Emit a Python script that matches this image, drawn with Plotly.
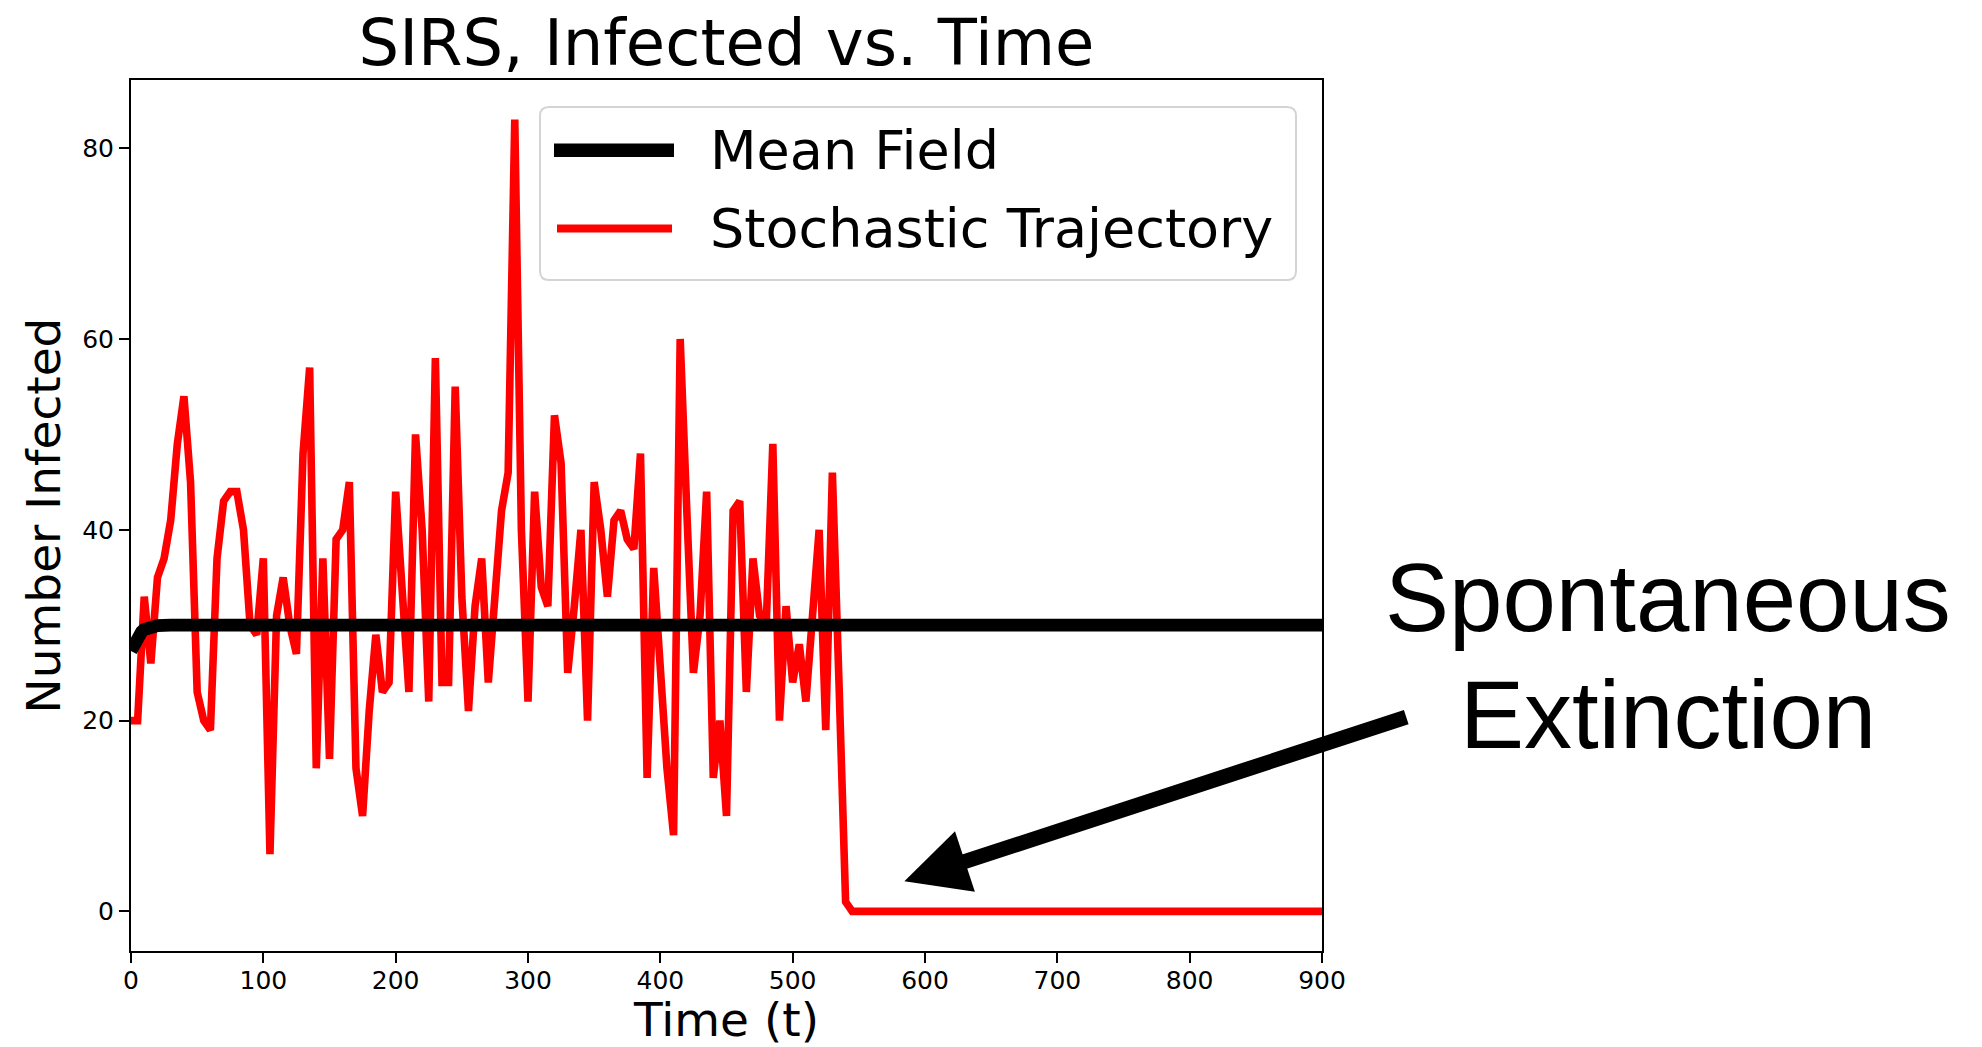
import plotly.graph_objects as go

# ---------------- data ----------------
stoch_t = [0, 5, 10, 15, 20, 25, 30, 35, 40, 45, 50, 55, 60, 65, 70, 75, 80, 85, 90, 95,
           100, 105, 110, 115, 120, 125, 130, 135, 140, 145, 150, 155, 160, 165, 170, 175,
           180, 185, 190, 195, 200, 205, 210, 215, 220, 225, 230, 235, 240, 245, 250, 255,
           260, 265, 270, 275, 280, 285, 290, 295, 300, 305, 310, 315, 320, 325, 330, 335,
           340, 345, 350, 355, 360, 365, 370, 375, 380, 385, 390, 395, 400, 405, 410, 415,
           420, 425, 430, 435, 440, 445, 450, 455, 460, 465, 470, 475, 480, 485, 490, 495,
           500, 505, 510, 515, 520, 525, 530, 535, 540, 545, 900]
stoch_infected = [20, 20, 33, 26, 35, 37, 41, 49, 54, 45, 23, 20, 19, 37, 43, 44, 44, 40, 30, 29,
                  37, 6, 31, 35, 30, 27, 48, 57, 15, 37, 16, 39, 40, 45, 15, 10,
                  21, 29, 23, 24, 44, 34, 23, 50, 40, 22, 58, 24, 24, 55, 33, 21,
                  32, 37, 24, 33, 42, 46, 83, 40, 22, 44, 34, 32, 52, 47, 25, 32,
                  40, 20, 45, 40, 33, 41, 42, 39, 38, 48, 14, 36, 26, 15, 8, 60,
                  42, 25, 31, 44, 14, 20, 10, 42, 43, 23, 37, 31, 30, 49, 20, 32,
                  24, 28, 22, 31, 40, 19, 46, 24, 1, 0, 0]

mf_t = [0, 2, 4, 6, 8, 10, 13, 16, 20, 30, 900]
mf_infected = [27.3, 28.0, 28.6, 29.0, 29.3, 29.55, 29.75, 29.87, 29.95, 30.0, 30.0]

x_ticks = [0, 100, 200, 300, 400, 500, 600, 700, 800, 900]
y_ticks = [0, 20, 40, 60, 80]

title_text = "SIRS, Infected vs. Time"
x_title = "Time (t)"
y_title = "Number Infected"
legend_names = ["Mean Field", "Stochastic Trajectory"]
note_lines = ["Spontaneous", "Extinction"]
arrow_tip = (584.4, 3.15)
arrow_tail = (964.8, 20.42)

# ---------------- figure ----------------
W, H = 1982, 1047
L, R, T, B = 131, 660, 80, 96
BLACK_W, RED_W = 12.8, 7.6
DJ = "DejaVu Sans"

fig = go.Figure()
fig.add_trace(go.Scatter(x=stoch_t, y=stoch_infected, mode="lines",
                         name=legend_names[1],
                         line=dict(color="#ff0000", width=RED_W),
                         showlegend=False))
fig.add_trace(go.Scatter(x=mf_t, y=mf_infected, mode="lines",
                         name=legend_names[0],
                         line=dict(color="#000000", width=BLACK_W),
                         showlegend=False))

pw, ph = W - L - R, H - T - B


def px_x(px):
    return (px - L) / pw


def px_y(py):
    return (H - B - py) / ph


# manual legend (rounded box, long line samples)
bx0, bx1, by0, by1 = px_x(540), px_x(1296), px_y(280), px_y(107)
rx, ry = 9 / pw, 9 / ph
box_path = (f"M{bx0+rx},{by0} L{bx1-rx},{by0} Q{bx1},{by0} {bx1},{by0+ry} "
            f"L{bx1},{by1-ry} Q{bx1},{by1} {bx1-rx},{by1} L{bx0+rx},{by1} "
            f"Q{bx0},{by1} {bx0},{by1-ry} L{bx0},{by0+ry} Q{bx0},{by0} {bx0+rx},{by0} Z")

shapes = [
    dict(type="path", path=box_path, xref="paper", yref="paper", layer="above",
         fillcolor="rgba(255,255,255,0.9)", line=dict(color="#d4d4d4", width=2)),
    dict(type="line", xref="paper", yref="paper", layer="above",
         x0=px_x(554), x1=px_x(674), y0=px_y(150.3), y1=px_y(150.3),
         line=dict(color="#000000", width=13.5)),
    dict(type="line", xref="paper", yref="paper", layer="above",
         x0=px_x(557), x1=px_x(672), y0=px_y(228.5), y1=px_y(228.5),
         line=dict(color="#ff0000", width=8)),
]

annotations = [
    dict(text=legend_names[0], xref="paper", yref="paper", x=px_x(708), y=px_y(150.3),
         xanchor="left", yanchor="middle", showarrow=False,
         font=dict(family=DJ, size=54, color="#000000")),
    dict(text=legend_names[1], xref="paper", yref="paper", x=px_x(708), y=px_y(228.5),
         xanchor="left", yanchor="middle", showarrow=False,
         font=dict(family=DJ, size=54, color="#000000")),
    dict(text="", x=arrow_tip[0], y=arrow_tip[1], xref="x", yref="y",
         ax=arrow_tail[0], ay=arrow_tail[1], axref="x", ayref="y",
         showarrow=True, arrowhead=2, arrowwidth=15, arrowsize=0.85,
         arrowcolor="#000000", standoff=0),
    dict(text=note_lines[0], xref="paper", yref="paper", x=px_x(1668), y=px_y(597),
         xanchor="center", yanchor="middle", showarrow=False,
         font=dict(family="Liberation Sans, Arial", size=96, color="#000000")),
    dict(text=note_lines[1], xref="paper", yref="paper", x=px_x(1668), y=px_y(714),
         xanchor="center", yanchor="middle", showarrow=False,
         font=dict(family="Liberation Sans, Arial", size=96, color="#000000")),
]

axis_common = dict(showgrid=False, zeroline=False, showline=True, linecolor="#000000",
                   linewidth=2, mirror=True, ticks="outside", ticklen=10, tickwidth=2,
                   tickcolor="#000000", automargin=False,
                   tickfont=dict(family=DJ, size=25, color="#000000"))

fig.update_layout(
    width=W, height=H,
    margin=dict(l=L, r=R, t=T, b=B, pad=0, autoexpand=False),
    paper_bgcolor="white", plot_bgcolor="white",
    title=dict(text=title_text, x=(L + pw / 2) / W, xanchor="center",
               y=1 - 43 / H, yanchor="middle", yref="container",
               font=dict(family=DJ, size=64, color="#000000")),
    xaxis=dict(range=[0, 900], tickvals=x_ticks, ticktext=[str(v) for v in x_ticks],
               ticklabelstandoff=-4,
               title=dict(text=x_title, font=dict(family=DJ, size=47, color="#000000"),
                          standoff=18),
               **axis_common),
    yaxis=dict(range=[-4.15, 87.15], tickvals=y_ticks, ticktext=[str(v) for v in y_ticks],
               title=dict(text=y_title, font=dict(family=DJ, size=47, color="#000000"),
                          standoff=7),
               **axis_common),
    shapes=shapes,
    annotations=annotations,
    showlegend=False,
)

fig.write_html("out.html", config={"displayModeBar": False},
               post_script="document.body.style.margin='0';document.body.style.overflow='hidden';")
